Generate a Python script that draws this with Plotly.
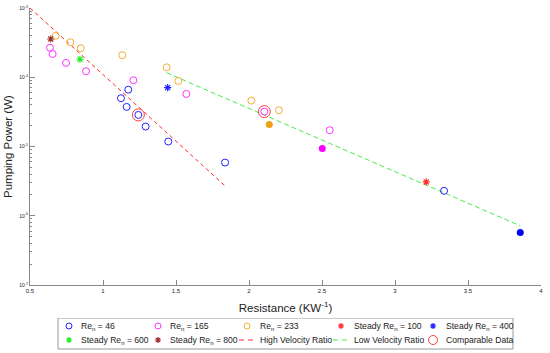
import plotly.graph_objects as go

# Re_n = 46 (open blue circles)
re46_x = [1.123, 1.162, 1.173, 1.242, 1.292, 1.447, 1.836, 3.336]
re46_y = [4.98e-5, 3.73e-5, 6.62e-5, 2.86e-5, 1.94e-5, 1.18e-5, 5.86e-6, 2.29e-6]
# Re_n = 165 (open magenta circles)
re165_x = [0.637, 0.655, 0.747, 0.884, 1.208, 1.571, 2.105, 2.553]
re165_y = [2.67e-4, 2.17e-4, 1.61e-4, 1.22e-4, 9.06e-5, 5.74e-5, 3.19e-5, 1.72e-5]
# Re_n = 233 (open orange circles)
re233_x = [0.676, 0.776, 0.847, 1.132, 1.436, 1.516, 2.016, 2.205]
re233_y = [3.98e-4, 3.2e-4, 2.62e-4, 2.08e-4, 1.39e-4, 8.85e-5, 4.6e-5, 3.34e-5]
# Steady cases
steady100_x, steady100_y = [3.214], [3.08e-6]
steady400_x, steady400_y = [1.443], [7.08e-5]
steady600_x, steady600_y = [0.842], [1.82e-4]
steady800_x, steady800_y = [0.642], [3.57e-4]
# Filled markers (not in legend)
filled_orange_x, filled_orange_y = [2.139], [2.07e-5]
filled_magenta_x, filled_magenta_y = [2.502], [9.33e-6]
filled_blue_x, filled_blue_y = [3.858], [5.73e-7]
# Fit lines
high_vr_x = [0.5, 1.836]
high_vr_y = [1.0e-3, 2.7e-6]
low_vr_x = [1.436, 3.858]
low_vr_y = [1.16e-4, 7.15e-7]
# Comparable data
comp_x = [1.242, 2.105]
comp_y = [2.86e-5, 3.19e-5]

# Tick labels
y_tickvals = [1e-7, 1e-6, 1e-5, 1e-4, 1e-3]
y_ticktext = ["10<sup>-7</sup>", "10<sup>-6</sup>", "10<sup>-5</sup>", "10<sup>-4</sup>", "10<sup>-3</sup>"]
x_tickvals = [0.5, 1, 1.5, 2, 2.5, 3, 3.5, 4]
x_ticktext = ["0.5", "1", "1.5", "2", "2.5", "3", "3.5", "4"]

# Legend labels
legend_labels = ["Re<sub>n</sub> = 46", "Re<sub>n</sub> = 165", "Re<sub>n</sub> = 233",
                 "Steady Re<sub>n</sub> = 100", "Steady Re<sub>n</sub> = 400",
                 "Steady Re<sub>n</sub> = 600", "Steady Re<sub>n</sub> = 800",
                 "High Velocity Ratio", "Low Velocity Ratio", "Comparable Data"]

BLUE = "#2222ff"
MAG = "#ff33ff"
ORA = "#f0b030"
RED = "#ff2a2a"
GREEN = "#44ee44"
STAR100 = "#ff3030"
STAR400 = "#2020ff"
STAR600 = "#20ee20"
STAR800 = "#a03030"
COMP = "#ff4040"

styles = [
    dict(kind="m", symbol="circle-open", size=7, lsize=6, color=BLUE, lw=1),
    dict(kind="m", symbol="circle-open", size=7, lsize=6, color=MAG, lw=1),
    dict(kind="m", symbol="circle-open", size=7, lsize=6, color=ORA, lw=1),
    dict(kind="m", symbol="asterisk-open", size=6, lsize=5, color=STAR100, lw=1.2),
    dict(kind="m", symbol="asterisk-open", size=6, lsize=5, color=STAR400, lw=1.2),
    dict(kind="m", symbol="asterisk-open", size=6, lsize=5, color=STAR600, lw=1.2),
    dict(kind="m", symbol="asterisk-open", size=6, lsize=5, color=STAR800, lw=1.2),
    dict(kind="l", color=RED, dash="4px,3px"),
    dict(kind="l", color=GREEN, dash="5px,3px"),
    dict(kind="m", symbol="circle-open", size=12, lsize=9, color=COMP, lw=1),
]
series = [
    (re46_x, re46_y), (re165_x, re165_y), (re233_x, re233_y),
    (steady100_x, steady100_y), (steady400_x, steady400_y),
    (steady600_x, steady600_y), (steady800_x, steady800_y),
    (high_vr_x, high_vr_y), (low_vr_x, low_vr_y), (comp_x, comp_y),
]

fig = go.Figure()
order = [7, 8, 0, 1, 2, 3, 4, 5, 6, 9]
for i in order:
    st = styles[i]
    x, y = series[i]
    if st["kind"] == "m":
        fig.add_trace(go.Scatter(x=x, y=y, mode="markers", name=legend_labels[i], showlegend=False,
            marker=dict(symbol=st["symbol"], size=st["size"], color=st["color"],
                        line=dict(width=st["lw"], color=st["color"]))))
    else:
        fig.add_trace(go.Scatter(x=x, y=y, mode="lines", name=legend_labels[i], showlegend=False,
            line=dict(color=st["color"], width=1, dash=st["dash"])))

for (x, y), c in [((filled_orange_x, filled_orange_y), "#e8a317"),
                  ((filled_magenta_x, filled_magenta_y), "#ff00ff"),
                  ((filled_blue_x, filled_blue_y), "#0000ff")]:
    fig.add_trace(go.Scatter(x=x, y=y, mode="markers", showlegend=False,
        marker=dict(symbol="circle", size=7, color=c)))

# ---- Legend drawn on a hidden helper axis (pixel-like coordinates) ----
col_sym_x = [69, 158, 247, 341, 433]
col_txt_x = [79, 168, 258, 352, 444]
row_y = [326, 340]
for k in range(10):
    r, c = divmod(k, 5)
    st = styles[k]
    sx, ty = col_sym_x[c], row_y[r]
    if st["kind"] == "m":
        fig.add_trace(go.Scatter(x=[sx], y=[ty], xaxis="x2", yaxis="y2", mode="markers",
            showlegend=False, hoverinfo="skip",
            marker=dict(symbol=st["symbol"], size=st["lsize"], color=st["color"],
                        line=dict(width=st["lw"], color=st["color"]))))
    else:
        fig.add_trace(go.Scatter(x=[sx - 8, sx + 7], y=[ty, ty], xaxis="x2", yaxis="y2", mode="lines",
            showlegend=False, hoverinfo="skip",
            line=dict(color=st["color"], width=1, dash="5px,4px")))
    fig.add_annotation(x=col_txt_x[c], y=ty, xref="x2", yref="y2", text=legend_labels[k],
                       showarrow=False, xanchor="left", yanchor="middle",
                       font=dict(size=8.6, color="#222222"))

fig.add_shape(type="rect", xref="x2", yref="y2", x0=58, x1=513, y0=318, y1=349,
              line=dict(color="#999999", width=1), fillcolor="rgba(0,0,0,0)", layer="below")

axcol = "#888888"
H = 353
T, B = 8, 3
plot_h = H - T - B
main_bottom = (H - B - 285) / plot_h

# y-axis title as a rotated annotation (placed left of the tick labels)
fig.add_annotation(x=-22 / 511, y=(H - B - 147) / plot_h, xref="paper", yref="paper",
                   text="Pumping Power (W)", textangle=-90, showarrow=False,
                   xanchor="center", yanchor="middle", font=dict(size=11.5, color="#222222"))

fig.update_layout(
    width=550, height=H,
    margin=dict(l=30, r=9, t=T, b=B, autoexpand=False),
    paper_bgcolor="white", plot_bgcolor="white",
    font=dict(family="Liberation Sans, Arial, sans-serif", color="#222222"),
    showlegend=False,
    xaxis=dict(range=[0.5, 4], tickvals=x_tickvals, ticktext=x_ticktext, anchor="y",
               automargin=False,
               showgrid=False, zeroline=False, showline=True, linecolor=axcol, linewidth=1,
               ticks="inside", ticklen=5, tickcolor=axcol, tickfont=dict(size=6),
               title=dict(text="Resistance (KW<sup>-1</sup>)", font=dict(size=11.5), standoff=10)),
    yaxis=dict(type="log", range=[-7, -3], tickvals=y_tickvals, ticktext=y_ticktext,
               domain=[main_bottom, 1], anchor="x", automargin=False,
               showgrid=False, zeroline=False, showline=True, linecolor=axcol, linewidth=1,
               ticks="inside", ticklen=5, tickcolor=axcol, tickfont=dict(size=5),
               minor=dict(ticks="inside", ticklen=2, tickcolor=axcol, showgrid=False, dtick="D1")),
    xaxis2=dict(range=[30, 541], domain=[0, 1], anchor="y2", visible=False, fixedrange=True,
                automargin=False),
    yaxis2=dict(range=[H - B, H - B - 32], domain=[0, 32 / plot_h], anchor="x2",
                visible=False, fixedrange=True, automargin=False),
)

fig.write_html("out.html", config={"displayModeBar": False},
               post_script="document.body.style.margin='0';")
